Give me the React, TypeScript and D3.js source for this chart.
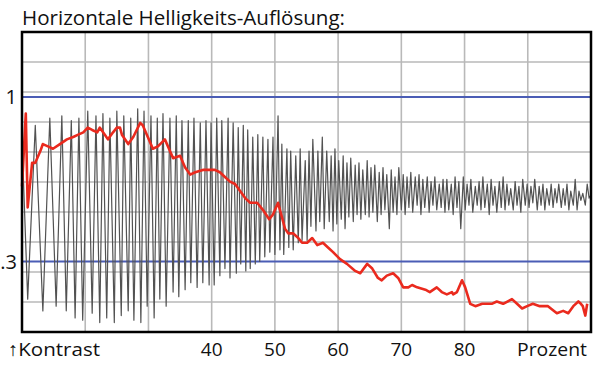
import React, { useEffect, useRef } from "react";
import * as d3 from "d3";

// x: Prozent (10..100), y: Kontrast (0 at the bottom border, 1 at the upper blue line)
const xTicks = [20, 30, 40, 50, 60, 70, 80, 90];
const xTickLabels = ["40", "50", "60", "70", "80"];
const xTickValues = [40, 50, 60, 70, 80];
const yRefValues = [1, 0.3];
const yRefLabels = ["1", ".3"];
const yMax = 1.277;

// red: mean contrast
const redX = [
  10.0, 10.6, 10.9, 11.6, 12.1, 12.9, 13.3, 14.1, 14.9, 16.0, 17.1, 18.1, 18.9, 19.7, 20.4, 21.1, 21.9,
  22.3, 23.1, 23.6, 24.4, 25.0, 25.5, 25.8, 26.8, 27.6, 28.7, 29.1, 29.9, 30.7, 31.5, 32.6, 33.4, 33.9,
  35.0, 35.8, 36.6, 37.4, 38.6, 40.1, 40.5, 41.3, 42.1, 42.9, 43.7, 44.5, 45.3, 46.1, 47.2, 48.1, 49.1,
  49.7, 50.5, 51.1, 51.6, 52.1, 52.9, 53.7, 54.3, 55.1, 55.9, 56.7, 57.6, 58.4, 59.2, 60.3, 61.4, 62.7,
  63.5, 64.6, 65.4, 66.3, 66.9, 67.7, 68.7, 69.5, 70.3, 71.1, 71.7, 72.5, 73.8, 74.5, 75.6, 76.4, 77.2,
  78.0, 78.2, 78.8, 79.6, 80.1, 80.9, 81.7, 82.8, 84.3, 85.1, 86.1, 87.5, 88.3, 89.1, 89.9, 90.8, 91.9,
  93.2, 94.6, 95.6, 96.4, 97.2, 98.0, 98.4, 98.7, 99.1, 99.4,
];
const redY = [
  0.62, 0.93, 0.53, 0.72, 0.72, 0.77, 0.8, 0.79, 0.78, 0.8, 0.82, 0.83, 0.84, 0.85, 0.87, 0.86, 0.85,
  0.87, 0.84, 0.82, 0.85, 0.87, 0.87, 0.84, 0.8, 0.83, 0.89, 0.88, 0.83, 0.78, 0.79, 0.82, 0.77, 0.74,
  0.75, 0.7, 0.67, 0.68, 0.69, 0.69, 0.69, 0.68, 0.66, 0.64, 0.63, 0.6, 0.57, 0.55, 0.55, 0.52, 0.48,
  0.5, 0.55, 0.49, 0.44, 0.42, 0.42, 0.4, 0.38, 0.38, 0.4, 0.37, 0.38, 0.36, 0.34, 0.31, 0.29, 0.26,
  0.25, 0.29, 0.27, 0.23, 0.22, 0.24, 0.25, 0.23, 0.19, 0.19, 0.2, 0.19, 0.18, 0.17, 0.19, 0.17, 0.16,
  0.17, 0.16, 0.17, 0.22, 0.19, 0.12, 0.11, 0.12, 0.12, 0.13, 0.12, 0.14, 0.12, 0.1, 0.11, 0.12, 0.11,
  0.11, 0.08, 0.09, 0.08, 0.11, 0.13, 0.12, 0.11, 0.07, 0.12,
];

// gray: measured sweep signal, alternating maxima and minima
const grayX = [
  10.0, 10.9, 12.1, 13.3, 14.4, 15.4, 16.3, 17.0, 17.8, 18.4, 19.0, 19.6, 20.4, 21.1, 21.7, 22.3, 22.8,
  23.4, 23.9, 24.6, 25.0, 25.7, 26.1, 26.8, 27.2, 27.7, 28.3, 28.8, 29.3, 29.8, 30.4, 30.9, 31.4, 31.8,
  32.3, 32.8, 33.4, 33.9, 34.4, 34.8, 35.3, 35.8, 36.3, 36.7, 37.2, 37.7, 38.2, 38.6, 39.1, 39.6, 39.9,
  40.4, 40.8, 41.3, 41.6, 42.1, 42.6, 42.9, 43.4, 43.9, 44.2, 44.6, 45.0, 45.4, 45.7, 46.1, 46.5, 46.9,
  47.3, 47.6, 48.1, 48.4, 48.9, 49.2, 49.7, 50.0, 50.5, 50.8, 51.1, 51.4, 51.9, 52.2, 52.5, 52.9, 53.3,
  53.7, 54.0, 54.3, 54.8, 55.1, 55.4, 55.7, 56.0, 56.5, 56.8, 57.1, 57.5, 57.8, 58.2, 58.6, 58.9, 59.2,
  59.5, 59.8, 60.1, 60.5, 60.8, 61.1, 61.4, 61.7, 62.0, 62.4, 62.7, 63.0, 63.3, 63.6, 63.9, 64.3, 64.6,
  64.9, 65.2, 65.5, 65.8, 66.2, 66.5, 66.8, 67.1, 67.4, 67.7, 68.1, 68.4, 68.7, 69.0, 69.3, 69.6, 70.0,
  70.3, 70.6, 70.9, 71.2, 71.5, 71.8, 72.2, 72.5, 72.8, 73.1, 73.4, 73.7, 74.1, 74.4, 74.7, 75.0, 75.3,
  75.6, 76.0, 76.3, 76.6, 76.9, 77.2, 77.5, 77.9, 78.2, 78.5, 78.8, 79.1, 79.4, 79.8, 80.1, 80.4, 80.7,
  81.0, 81.3, 81.7, 82.0, 82.3, 82.6, 82.9, 83.2, 83.6, 83.9, 84.2, 84.5, 84.8, 85.1, 85.5, 85.8, 86.1,
  86.4, 86.7, 87.0, 87.3, 87.7, 88.0, 88.3, 88.6, 88.9, 89.2, 89.6, 89.9, 90.2, 90.5, 90.8, 91.1, 91.5,
  91.8, 92.1, 92.4, 92.7, 93.0, 93.4, 93.7, 94.0, 94.3, 94.6, 94.9, 95.3, 95.6, 95.9, 96.2, 96.5, 96.8,
  97.2, 97.5, 97.8, 98.1, 98.4, 98.7, 99.1, 99.4, 99.7, 99.8,
];
const grayY = [
  0.82, 0.14, 0.88, 0.09, 0.91, 0.11, 0.92, 0.09, 0.9, 0.06, 0.91, 0.05, 0.94, 0.08, 0.92, 0.04, 0.93,
  0.06, 0.91, 0.04, 0.94, 0.07, 0.92, 0.09, 0.91, 0.05, 0.95, 0.04, 0.94, 0.11, 0.92, 0.06, 0.91, 0.14,
  0.93, 0.11, 0.91, 0.17, 0.92, 0.15, 0.9, 0.18, 0.9, 0.21, 0.91, 0.19, 0.89, 0.21, 0.9, 0.2, 0.89,
  0.2, 0.91, 0.24, 0.9, 0.27, 0.91, 0.23, 0.89, 0.25, 0.87, 0.29, 0.88, 0.26, 0.86, 0.27, 0.83, 0.29,
  0.84, 0.3, 0.83, 0.32, 0.82, 0.34, 0.83, 0.33, 0.92, 0.35, 0.8, 0.33, 0.78, 0.36, 0.77, 0.35, 0.75,
  0.38, 0.78, 0.39, 0.73, 0.39, 0.77, 0.45, 0.82, 0.43, 0.77, 0.47, 0.83, 0.44, 0.77, 0.47, 0.75, 0.43,
  0.78, 0.46, 0.73, 0.48, 0.75, 0.44, 0.72, 0.49, 0.74, 0.47, 0.71, 0.5, 0.72, 0.48, 0.69, 0.5, 0.73,
  0.49, 0.7, 0.51, 0.71, 0.47, 0.68, 0.5, 0.7, 0.52, 0.67, 0.44, 0.69, 0.51, 0.66, 0.5, 0.7, 0.52,
  0.67, 0.5, 0.66, 0.53, 0.68, 0.51, 0.66, 0.54, 0.67, 0.5, 0.65, 0.53, 0.66, 0.51, 0.64, 0.54, 0.66,
  0.52, 0.63, 0.53, 0.65, 0.51, 0.65, 0.52, 0.63, 0.5, 0.66, 0.53, 0.64, 0.44, 0.66, 0.52, 0.63, 0.54,
  0.65, 0.51, 0.62, 0.54, 0.64, 0.52, 0.66, 0.53, 0.63, 0.5, 0.65, 0.54, 0.62, 0.51, 0.64, 0.53, 0.66,
  0.52, 0.63, 0.54, 0.61, 0.52, 0.64, 0.54, 0.62, 0.51, 0.65, 0.54, 0.63, 0.53, 0.62, 0.55, 0.65, 0.52,
  0.62, 0.54, 0.63, 0.52, 0.61, 0.54, 0.63, 0.53, 0.61, 0.55, 0.63, 0.53, 0.61, 0.54, 0.63, 0.52, 0.6,
  0.54, 0.65, 0.52, 0.6, 0.56, 0.59, 0.54, 0.63, 0.57, 0.58,
];

const App: React.FC = () => {
  const svgRef = useRef<SVGSVGElement>(null);

  useEffect(() => {
    if (!svgRef.current) return;
    const svg = d3.select(svgRef.current);
    svg.selectAll("*").remove();

    const width = 600;
    const height = 366;
    const margin = { top: 32, right: 9, bottom: 34, left: 22 };
    const font = "'Open Sans', 'Noto Sans', sans-serif";

    const x = d3.scaleLinear().domain([10, 100]).range([margin.left, width - margin.right]);
    const y = d3.scaleLinear().domain([0, yMax]).range([height - margin.bottom, margin.top]);

    // grid
    const grid = svg.append("g").attr("stroke", "#b9b9b9").attr("stroke-width", 1.6);
    grid
      .selectAll("line.v")
      .data(xTicks)
      .enter()
      .append("line")
      .attr("x1", (d) => x(d))
      .attr("x2", (d) => x(d))
      .attr("y1", margin.top)
      .attr("y2", height - margin.bottom);
    grid
      .selectAll("line.h")
      .data(d3.range(1, 10).map((i) => (i * yMax) / 10))
      .enter()
      .append("line")
      .attr("x1", margin.left)
      .attr("x2", width - margin.right)
      .attr("y1", (d) => y(d))
      .attr("y2", (d) => y(d));

    // blue reference lines
    svg
      .append("g")
      .selectAll("line")
      .data(yRefValues)
      .enter()
      .append("line")
      .attr("x1", margin.left)
      .attr("x2", width - margin.right)
      .attr("y1", (d) => y(d))
      .attr("y2", (d) => y(d))
      .attr("stroke", "#4b5db5")
      .attr("stroke-width", 2);

    // gray trace
    const grayLine = d3
      .line<number>()
      .x((d) => x(d))
      .y((_, i) => y(grayY[i]));
    svg
      .append("path")
      .attr("d", grayLine(grayX))
      .attr("fill", "none")
      .attr("stroke", "#525252")
      .attr("stroke-width", 1.2)
      .attr("stroke-linejoin", "round");

    // red trace
    const redLine = d3
      .line<number>()
      .x((d) => x(d))
      .y((_, i) => y(redY[i]));
    svg
      .append("path")
      .attr("d", redLine(redX))
      .attr("fill", "none")
      .attr("stroke", "#ea2a1e")
      .attr("stroke-width", 2.6)
      .attr("stroke-linejoin", "round");

    // frame
    svg
      .append("rect")
      .attr("x", margin.left)
      .attr("y", margin.top)
      .attr("width", width - margin.left - margin.right)
      .attr("height", height - margin.top - margin.bottom)
      .attr("fill", "none")
      .attr("stroke", "#000")
      .attr("stroke-width", 2.5);

    // title
    svg
      .append("text")
      .attr("x", margin.left)
      .attr("y", 25)
      .attr("textLength", 323)
      .attr("lengthAdjust", "spacingAndGlyphs")
      .style("font-family", font)
      .style("font-size", "20px")
      .style("fill", "#111")
      .text("Horizontale Helligkeits-Auflösung:");

    // y labels
    svg
      .append("g")
      .selectAll("text")
      .data(yRefValues)
      .enter()
      .append("text")
      .attr("x", 17)
      .attr("y", (d) => y(d) + 7)
      .attr("text-anchor", "end")
      .style("font-family", font)
      .style("font-size", "20px")
      .style("fill", "#111")
      .text((_, i) => yRefLabels[i]);

    // x labels
    const baseY = height - 10;
    svg
      .append("g")
      .selectAll("text")
      .data(xTickValues)
      .enter()
      .append("text")
      .attr("x", (d) => x(d))
      .attr("y", baseY)
      .attr("text-anchor", "middle")
      .style("font-family", font)
      .style("font-size", "19px")
      .style("fill", "#111")
      .text((_, i) => xTickLabels[i]);

    svg
      .append("text")
      .attr("x", 8)
      .attr("y", baseY)
      .attr("textLength", 92)
      .attr("lengthAdjust", "spacingAndGlyphs")
      .style("font-family", font)
      .style("font-size", "19px")
      .style("fill", "#111")
      .text("↑Kontrast");

    svg
      .append("text")
      .attr("x", x(100) - 4)
      .attr("y", baseY)
      .attr("text-anchor", "end")
      .attr("textLength", 70)
      .attr("lengthAdjust", "spacingAndGlyphs")
      .style("font-family", font)
      .style("font-size", "19px")
      .style("fill", "#111")
      .text("Prozent");
  }, []);

  return (
    <svg
      ref={svgRef}
      width={600}
      height={366}
      style={{ position: "absolute", left: 0, top: 0, background: "#fff" }}
    />
  );
};

export default App;
